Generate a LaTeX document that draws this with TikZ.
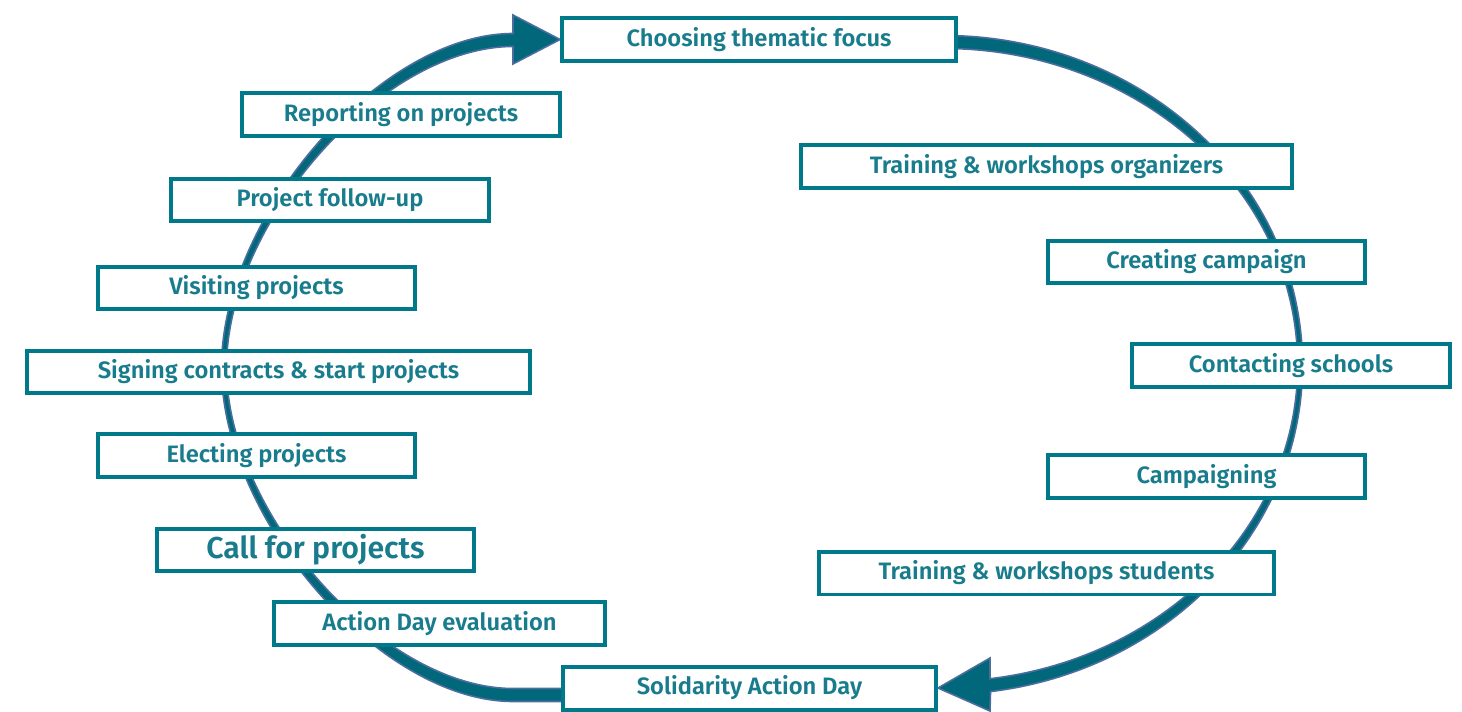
\documentclass[tikz,border=0pt]{standalone}
\usepackage{fontspec}
\setmainfont{Fira Sans}[BoldFont = {Fira Sans SemiBold}]
\usepackage{tikz}
\usetikzlibrary{backgrounds}
\definecolor{boxteal}{RGB}{0, 121, 139}
\definecolor{textteal}{RGB}{24, 124, 140}
\definecolor{bandteal}{RGB}{0, 104, 122}
\definecolor{bandblue}{RGB}{76, 110, 158}

\begin{document}
\begin{tikzpicture}[x = 0.02cm, y = -0.02cm]
%\draw[very thin, color = gray](0, 0) grid[step = 100] (1462, 712);
\tikzstyle{box} = [draw = boxteal, fill = white, line width = 0.08cm, rectangle,
  minimum width = 6.34cm, minimum height = 0.86cm, text = textteal,
  font = \bfseries\fontsize{13.5}{16}\selectfont]
\tikzstyle{band} = [fill = bandteal, draw = bandblue, line width = 0.9pt]
\useasboundingbox (0, 0) rectangle (1462, 712);
% right half of the cycle
\node [box, minimum width = 7.88cm] at (759, 39.5) (choose) {Choosing thematic focus};
\node [box, minimum width = 9.82cm] at (1046.5, 166.5) (organizers) {Training \& workshops organizers};
\node [box] at (1206.5, 262) (creating) {Creating campaign};
\node [box, minimum width = 6.36cm] at (1291, 365.5) (contacting) {Contacting schools};
\node [box] at (1206.5, 476.5) (campaigning) {Campaigning};
\node [box, minimum width = 9.10cm] at (1046.5, 573) (students) {Training \& workshops students};
\node [box, minimum width = 7.46cm] at (749.5, 688) (actionday) {Solidarity Action Day};
% left half of the cycle
\node [box, minimum width = 6.62cm] at (439.5, 623.5) (evaluation) {Action Day evaluation};
\node [box, font = \bfseries\fontsize{17.2}{19}\selectfont] at (315.5, 550) (call) {Call for projects};
\node [box] at (256.5, 455.5) (electing) {Electing projects};
\node [box, minimum width = 10.06cm] at (278.5, 372) (signing) {Signing contracts \& start projects};
\node [box] at (256.5, 288) (visiting) {Visiting projects};
\node [box, minimum width = 6.36cm] at (330, 200) (followup) {Project follow-up};
\node [box, minimum width = 6.36cm] at (401, 115) (reporting) {Reporting on projects};
\begin{pgfonlayer}{background}
\path [band] (575, 701.5) -- (513, 701.5)
  .. controls (380.4, 701.5) and (221.5, 519.5) .. (221.5, 367.5)
  .. controls (221.5, 215.5) and (380.4, 33.5) .. (513, 33.5)
  -- (513, 15) -- (choose.west) -- (513, 64) -- (513, 46.5)
  .. controls (382.6, 46.5) and (226.5, 221.5) .. (226.5, 367.5)
  .. controls (226.5, 513.5) and (382.6, 688.5) .. (513, 688.5)
  -- (575, 688.5) -- cycle;
\path [band] (943, 365) ++(-95:359.5 and 329.5)
  arc[start angle = -95, end angle = 82.4, x radius = 359.5, y radius = 329.5]
  -- (990, 711) -- (actionday.east) -- (990, 658) -- (990, 678.7)
  arc[start angle = 82.4, end angle = -95, x radius = 354.5, y radius = 316.5]
  -- cycle;
\end{pgfonlayer}
\end{tikzpicture}
\end{document}
